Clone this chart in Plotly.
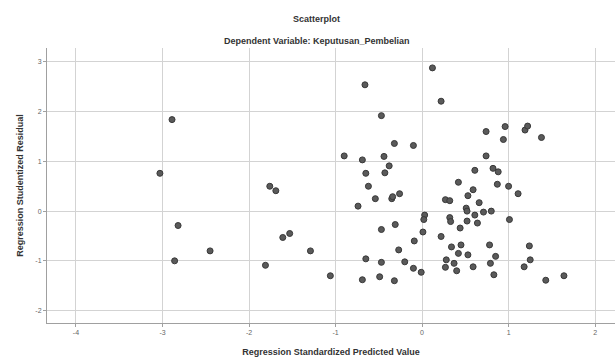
import plotly.graph_objects as go

# Regression standardized predicted value (x) and studentized residual (y)
pred = [-0.66, -2.89, -3.03, -0.90, -0.69, -0.65, -0.62, -1.76, -1.69, -0.74,
        -2.82, -1.53, -1.61, -2.45, -1.29, -2.86, -1.81, -0.65, -1.06, -0.69,
        0.12, 0.22, -0.47, 0.74, 0.96, 0.94, 1.19, 1.22, 1.38, -0.32,
        -0.10, -0.44, 0.74, -0.38, -0.43, 0.61, 0.82, 0.88, 0.42, 0.87,
        1.00, 0.59, 1.11, 0.53, -0.54, -0.35, -0.34, -0.26, 0.27, 0.32,
        0.66, 0.51, 0.52, 0.71, 0.80, 0.03, 0.02, 0.32, 0.33, 0.61,
        0.52, 0.64, 1.01, -0.31, -0.47, 0.44, 0.01, 0.22, -0.09, 0.34,
        0.45, 0.78, 1.24, -0.27, 0.42, 0.53, 0.85, -0.47, -0.20, 0.28,
        0.37, 1.25, 0.79, -0.10, -0.01, 0.27, 0.40, 0.59, 1.18, 0.83,
        -0.49, -0.32, 1.43, 1.64]
resid = [2.54, 1.84, 0.76, 1.11, 1.03, 0.76, 0.50, 0.50, 0.41, 0.10,
         -0.29, -0.45, -0.53, -0.80, -0.80, -1.00, -1.09, -0.96, -1.30, -1.38,
         2.88, 2.21, 1.92, 1.60, 1.70, 1.44, 1.63, 1.71, 1.48, 1.36,
         1.32, 1.10, 1.11, 0.91, 0.77, 0.82, 0.86, 0.79, 0.58, 0.54,
         0.50, 0.43, 0.35, 0.31, 0.25, 0.25, 0.29, 0.35, 0.23, 0.21,
         0.17, 0.06, 0.00, -0.02, 0.00, -0.08, -0.17, -0.13, -0.21, -0.08,
         -0.20, -0.24, -0.17, -0.27, -0.37, -0.34, -0.42, -0.51, -0.60, -0.72,
         -0.68, -0.68, -0.70, -0.78, -0.85, -0.88, -0.91, -1.03, -1.02, -0.98,
         -1.05, -0.98, -1.05, -1.15, -1.23, -1.13, -1.20, -1.12, -1.12, -1.28,
         -1.32, -1.40, -1.39, -1.30]

x_ticks = [-4, -3, -2, -1, 0, 1, 2]
y_ticks = [-2, -1, 0, 1, 2, 3]

title_text = "Scatterplot"
subtitle_text = "Dependent Variable: Keputusan_Pembelian"
x_title = "Regression Standardized Predicted Value"
y_title = "Regression Studentized Residual"

fig = go.Figure()
fig.add_trace(go.Scatter(
    x=pred, y=resid, mode="markers",
    marker=dict(size=6, color="#5a5a5a", line=dict(color="#383838", width=1)),
    hoverinfo="x+y", showlegend=False,
))

fig.update_layout(
    width=615, height=363,
    margin=dict(l=47, r=0, t=48, b=40),
    paper_bgcolor="white", plot_bgcolor="white",
    font=dict(family="Liberation Sans, Arial, sans-serif", color="#333333"),
    xaxis=dict(
        range=[-4.335, 2.23], tickvals=x_ticks, ticktext=[str(v) for v in x_ticks],
        showgrid=True, gridcolor="#d3d3d3", gridwidth=1, zeroline=False,
        showline=True, linecolor="#a0a0a0", linewidth=1,
        ticks="outside", ticklen=3, tickcolor="#a0a0a0",
        tickfont=dict(size=7, color="#666666"),
        title=dict(text="<b>" + x_title + "</b>", font=dict(size=9, color="#333333"), standoff=13),
    ),
    yaxis=dict(
        range=[-2.25, 3.28], tickvals=y_ticks, ticktext=[str(v) for v in y_ticks],
        showgrid=True, gridcolor="#d3d3d3", gridwidth=1, zeroline=False,
        showline=True, linecolor="#a0a0a0", linewidth=1,
        ticks="outside", ticklen=3, tickcolor="#a0a0a0",
        tickfont=dict(size=7, color="#666666"),
        title=dict(text="<b>" + y_title + "</b>", font=dict(size=9, color="#333333"), standoff=10),
    ),
    annotations=[
        dict(text="<b>" + title_text + "</b>", x=0.475, y=1, xref="paper", yref="paper",
             showarrow=False, font=dict(size=9, color="#333333")),
        dict(text="<b>" + subtitle_text + "</b>", x=0.475, y=1, xref="paper", yref="paper",
             showarrow=False, font=dict(size=9, color="#333333")),
    ],
)

# convert pixel positions of title rows into paper coordinates
plot_h = 363 - 48 - 40
for ann, py in zip(fig.layout.annotations, [19, 41]):
    ann.y = 1 + (48 - py) / plot_h
    ann.yanchor = "middle"

fig.write_html("out.html", config={"displayModeBar": False},
               post_script="document.body.style.margin='0';")
